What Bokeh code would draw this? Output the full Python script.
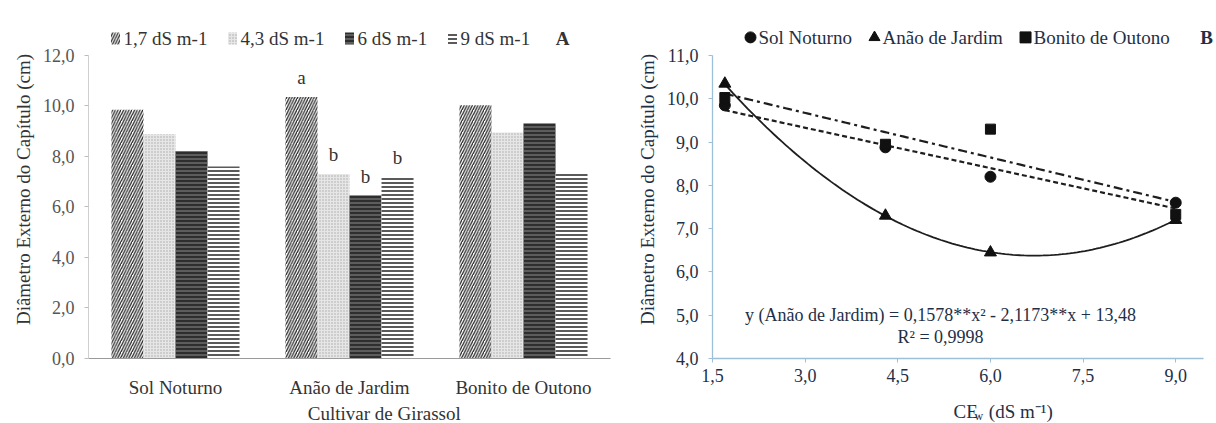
from bokeh.plotting import figure
from bokeh.models import FactorRange, FixedTicker, Range1d, ColumnDataSource
from bokeh.transform import dodge
from bokeh.layouts import row, column
from bokeh.embed import file_html
from bokeh.resources import INLINE
from bokeh.core.properties import value
import numpy as np

# ---- data -------------------------------------------------------------
cultivars = ["Sol Noturno", "Anão de Jardim", "Bonito de Outono"]
salinity = [1.7, 4.3, 6.0, 9.0]
salinity_labels = ["1,7 dS m-1", "4,3 dS m-1", "6 dS m-1", "9 dS m-1"]

sol_noturno = [9.85, 8.88, 8.20, 7.60]
anao_jardim = [10.35, 7.30, 6.45, 7.20]
bonito_outono = [10.03, 8.95, 9.30, 7.33]

anao_letters = ["a", "b", "b", "b"]

# fitted quadratic for Anão de Jardim (a*x^2 + b*x + c)
quad_a, quad_b, quad_c = 0.1578, -2.1173, 13.48
equation_text = "y (Anão de Jardim) = 0,1578**x² - 2,1173**x + 13,48"
r2_text = "R² = 0,9998"

left_yticks = [0, 2, 4, 6, 8, 10, 12]
right_yticks = [4, 5, 6, 7, 8, 9, 10, 11]
right_xticks = [1.5, 3.0, 4.5, 6.0, 7.5, 9.0]

FONT = "Liberation Serif"
TXT_L = "#333333"
TXT_R = "#1f2f46"


def fmt(v):
    return f"{v:.1f}".replace(".", ",")


def strip(x0, x1, parts, color):
    """thin text-only figure placed under a panel for its x-axis title"""
    s = figure(width=x1 - x0, height=23, x_range=Range1d(x0, x1), y_range=Range1d(0, 23),
               output_backend="svg", toolbar_location=None, x_axis_type=None,
               y_axis_type=None, min_border=0)
    s.outline_line_color = None
    s.xgrid.grid_line_color = None
    s.ygrid.grid_line_color = None
    for px, py, txt, fs, align in parts:
        s.text(x=[px], y=[py], text=[txt], text_font=value(FONT), text_font_size=fs,
               text_color=color, text_align=align, text_baseline="middle")
    return s


# ---- panel A: grouped hatched bars -------------------------------------
pa = figure(width=616, height=400, x_range=FactorRange(*cultivars),
            y_range=Range1d(0, 13.38), output_backend="svg", toolbar_location=None,
            min_border_left=88, min_border_right=6, min_border_top=20, min_border_bottom=41)
pa.outline_line_color = None
pa.xgrid.grid_line_color = None
pa.ygrid.grid_line_color = None

bar_styles = [
    dict(fill_color="white", hatch_pattern="right_diagonal_line", hatch_color="#262626",
         hatch_scale=5.5, hatch_weight=1.3),
    dict(fill_color="#e6e6e6", hatch_pattern="dot", hatch_color="#a8a8a8",
         hatch_scale=3, hatch_weight=1),
    dict(fill_color="#2e2e2e", hatch_pattern="horizontal_line", hatch_color="#8c8c8c",
         hatch_scale=4, hatch_weight=1),
    dict(fill_color="white", hatch_pattern="horizontal_line", hatch_color="#5a5a5a",
         hatch_scale=4, hatch_weight=2),
]
bar_w = 0.184
offsets = [-0.276, -0.092, 0.092, 0.276]

for i in range(4):
    vals = [sol_noturno[i], anao_jardim[i], bonito_outono[i]]
    src = ColumnDataSource(dict(cultivar=cultivars, v=vals))
    pa.vbar(x=dodge("cultivar", offsets[i], range=pa.x_range), top="v", width=bar_w,
            source=src, line_color=None, **bar_styles[i])

# significance letters over Anão de Jardim
for i in range(4):
    pa.text(x=dodge("cultivar", offsets[i], range=pa.x_range), y="y", text="t",
            source=ColumnDataSource(dict(cultivar=["Anão de Jardim"],
                                         y=[anao_jardim[i] + 0.35],
                                         t=[anao_letters[i]])),
            text_font=value(FONT), text_font_size="19px", text_color=TXT_L,
            text_align="center", text_baseline="bottom")

# legend row above the bars (category units: 174 px per category)
leg_y = 12.67
sw_px = [115, 232, 349, 452]
for i in range(4):
    xs = (sw_px[i] - 88) / 174.0
    pa.rect(x=[xs], y=[leg_y], width=9, height=12, width_units="screen",
            height_units="screen", line_color=None, **bar_styles[i])
    pa.text(x=[xs + 8 / 174.0], y=[leg_y], text=[salinity_labels[i]],
            text_font=value(FONT), text_font_size="19px", text_color=TXT_L,
            text_align="left", text_baseline="middle")

pa.text(x=[(562 - 88) / 174.0], y=[leg_y], text=["A"], text_font=value(FONT),
        text_font_size="19px", text_font_style="bold", text_color=TXT_L,
        text_align="center", text_baseline="middle")

pa.yaxis.bounds = (0, 12)
pa.yaxis.ticker = FixedTicker(ticks=left_yticks)
pa.yaxis.major_label_overrides = {t: fmt(t) for t in left_yticks}
pa.yaxis.axis_label = "Diâmetro Externo do Capítulo (cm)"
pa.yaxis.axis_label_text_font = FONT
pa.yaxis.axis_label_text_font_size = "19px"
pa.yaxis.axis_label_text_font_style = "normal"
pa.yaxis.axis_label_text_color = TXT_L
pa.yaxis.axis_label_standoff = 6
pa.yaxis.axis_line_color = "#cfcfcf"
pa.yaxis.major_tick_line_color = "#bdbdbd"
pa.yaxis.major_tick_out = 4
pa.yaxis.major_tick_in = 0
pa.yaxis.minor_tick_line_color = None
pa.yaxis.major_label_standoff = 10
pa.yaxis.major_label_text_font = FONT
pa.yaxis.major_label_text_font_size = "18px"
pa.yaxis.major_label_text_color = "#555555"

pa.xaxis.axis_line_color = "#9a9a9a"
pa.xaxis.major_tick_line_color = None
pa.xaxis.major_label_standoff = 12
pa.xaxis.major_label_text_font = FONT
pa.xaxis.major_label_text_font_size = "19px"
pa.xaxis.major_label_text_color = TXT_L

ta = strip(0, 616, [(349, 10, "Cultivar de Girassol", "19px", "center")], TXT_L)

# ---- panel B: response to salinity -------------------------------------
pb = figure(width=600, height=400, x_range=Range1d(1.5, 9.66), y_range=Range1d(4, 11.81),
            output_backend="svg", toolbar_location=None,
            min_border_left=96, min_border_right=0, min_border_top=20, min_border_bottom=42)
pb.outline_line_color = None
pb.xgrid.grid_line_color = None
pb.ygrid.grid_line_color = None

xs_fit = np.linspace(min(salinity), max(salinity), 120)
line_col = "#1e1e1e"

# linear trends for Sol Noturno and Bonito de Outono
k_sol = np.polyfit(salinity, sol_noturno, 1)
k_bon = np.polyfit(salinity, bonito_outono, 1)
pb.line(xs_fit, np.polyval(k_sol, xs_fit), line_color=line_col, line_width=2.2,
        line_dash="5 3")
pb.line(xs_fit, np.polyval(k_bon, xs_fit), line_color=line_col, line_width=2.2,
        line_dash="9 4 3 4")
pb.line(xs_fit, quad_a * xs_fit ** 2 + quad_b * xs_fit + quad_c, line_color=line_col,
        line_width=1.8)

pb.scatter(salinity, sol_noturno, marker="circle", size=11, color="#111111")
pb.scatter(salinity, anao_jardim, marker="triangle", size=12, color="#111111")
pb.scatter(salinity, bonito_outono, marker="square", size=10, color="#111111")


def bx(px):
    """page x pixel -> data x of panel B"""
    return 1.5 + (px - 712) / 61.76


leg_yb = 11.42
leg_items = [("circle", 750, "Sol Noturno"),
             ("triangle", 874, "Anão de Jardim"),
             ("square", 1025, "Bonito de Outono")]
for mk, px, name in leg_items:
    pb.scatter([bx(px)], [leg_yb], marker=mk, size=11, color="#111111")
    pb.text(x=[bx(px + 8)], y=[leg_yb], text=[name], text_font=value(FONT),
            text_font_size="19px", text_color=TXT_R, text_align="left",
            text_baseline="middle")
pb.text(x=[bx(1206)], y=[leg_yb], text=["B"], text_font=value(FONT), text_font_size="19px",
        text_font_style="bold", text_color=TXT_R, text_align="center",
        text_baseline="middle")

pb.text(x=[bx(940)], y=[5.0], text=[equation_text], text_font=value(FONT),
        text_font_size="18px", text_color=TXT_R, text_align="center", text_baseline="middle")
pb.text(x=[bx(940)], y=[4.5], text=[r2_text], text_font=value(FONT),
        text_font_size="18px", text_color=TXT_R, text_align="center", text_baseline="middle")

axis_blue = "#9dc0d8"
pb.xaxis.bounds = (1.5, 9.45)
pb.yaxis.bounds = (4, 11)
pb.yaxis.ticker = FixedTicker(ticks=right_yticks)
pb.yaxis.major_label_overrides = {t: fmt(t) for t in right_yticks}
pb.yaxis.axis_label = "Diâmetro Externo do Capítulo (cm)"
pb.yaxis.axis_label_text_font = FONT
pb.yaxis.axis_label_text_font_size = "19px"
pb.yaxis.axis_label_text_font_style = "normal"
pb.yaxis.axis_label_text_color = TXT_R
pb.yaxis.axis_label_standoff = 6
pb.yaxis.major_label_standoff = 10

pb.xaxis.ticker = FixedTicker(ticks=right_xticks)
pb.xaxis.major_label_overrides = {t: fmt(t) for t in right_xticks}
pb.xaxis.major_label_standoff = 6

for ax in (pb.xaxis[0], pb.yaxis[0]):
    ax.axis_line_color = axis_blue
    ax.axis_line_width = 1.3
    ax.major_tick_line_color = axis_blue
    ax.major_tick_out = 4
    ax.major_tick_in = 0
    ax.minor_tick_line_color = None
    ax.major_label_text_font = FONT
    ax.major_label_text_font_size = "18px"
    ax.major_label_text_color = TXT_R

# x-axis title of panel B with subscript and superscript
tb = strip(616, 1216, [(903, 12, "CE", "19px", "left"),
                       (928, 8, "w", "12px", "left"),
                       (945, 12, "(dS m⁻¹)", "19px", "left")], TXT_R)

layout = row(column(pa, ta, spacing=0), column(pb, tb, spacing=0), spacing=0)
open("out.html", "w").write(file_html(layout, INLINE))
